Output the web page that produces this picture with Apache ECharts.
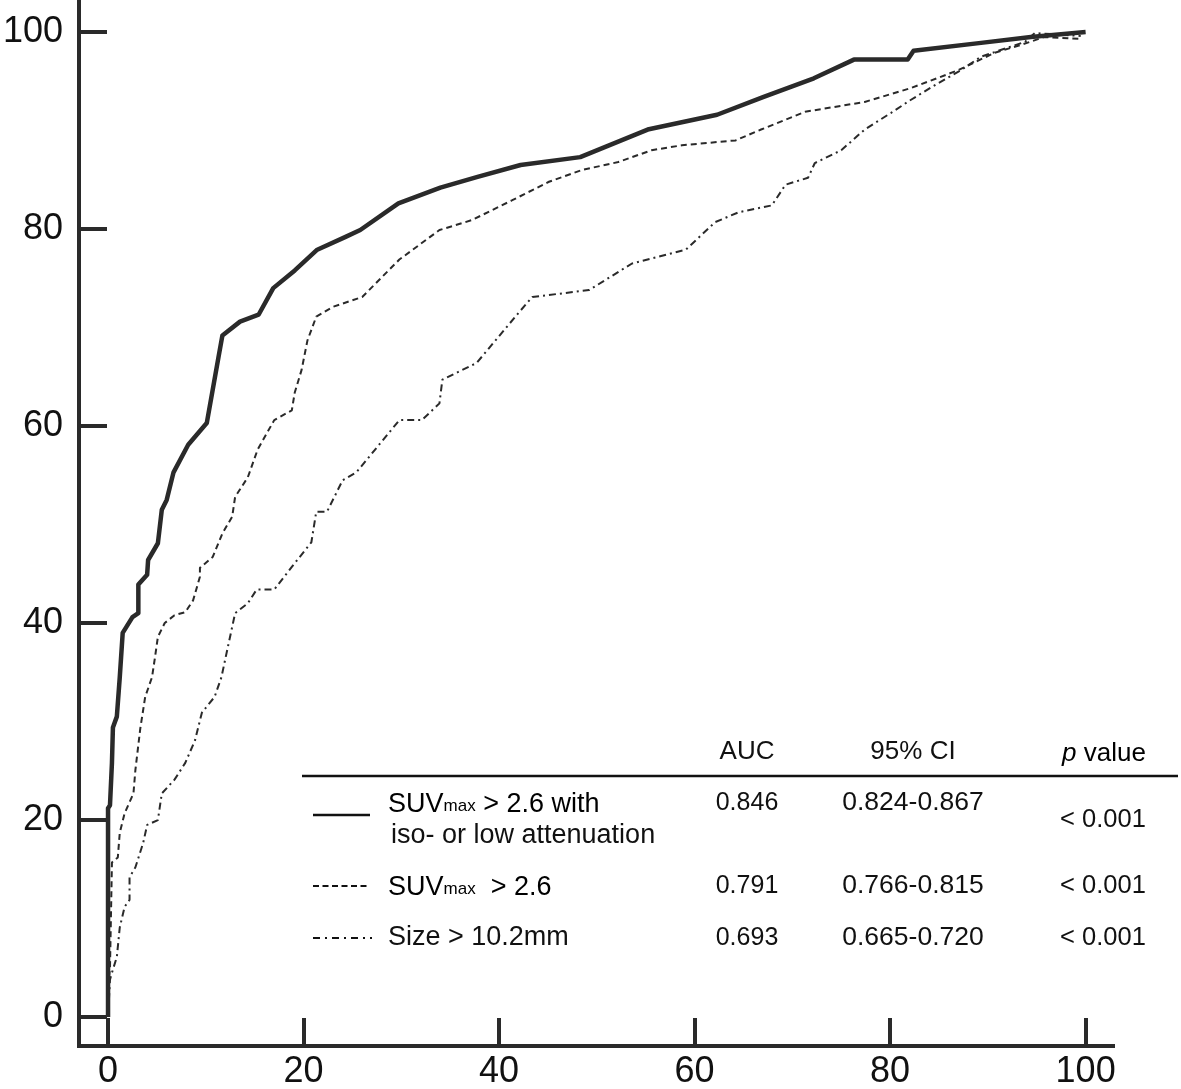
<!DOCTYPE html>
<html>
<head>
<meta charset="utf-8">
<script src="https://cdn.jsdelivr.net/npm/echarts@6/dist/echarts.min.js"></script>
<style>
html,body{margin:0;padding:0;background:#fff;}
#chart{width:1181px;height:1089px;}
</style>
</head>
<body>
<div id="chart"></div>
<script>
// ---- data ----
const xTicks = [0, 20, 40, 60, 80, 100];
const yTicks = [0, 20, 40, 60, 80, 100];

const solidX = [0, 0, 0.2, 0.4, 0.5, 0.9, 1.2, 1.5, 2.5, 3.1, 3.1, 4.0, 4.1, 5.1, 5.5, 6.0, 6.7, 8.2, 10.1, 11.3, 11.7, 13.5, 15.4, 16.9, 19.1, 21.4, 24.3, 25.8, 29.7, 34.0, 37.8, 42.2, 48.3, 55.2, 62.3, 67.0, 72.2, 76.3, 81.8, 82.4, 89.3, 94.4, 100];
const solidY = [0, 21.2, 21.5, 25.8, 29.4, 30.5, 34.5, 39.0, 40.6, 41.0, 43.9, 44.9, 46.4, 48.1, 51.5, 52.5, 55.3, 58.1, 60.3, 67.0, 69.2, 70.6, 71.3, 74.0, 75.8, 77.9, 79.2, 79.9, 82.6, 84.2, 85.3, 86.5, 87.3, 90.1, 91.6, 93.4, 95.3, 97.2, 97.2, 98.1, 98.9, 99.5, 100];

const dashX = [0, 0, 0.2, 0.4, 1.0, 1.2, 1.7, 2.6, 2.8, 3.3, 3.8, 4.5, 4.8, 5.1, 5.8, 6.8, 7.9, 8.7, 9.4, 9.4, 10.7, 11.7, 12.7, 13.0, 14.3, 15.3, 17.0, 18.8, 19.1, 19.8, 20.4, 21.3, 23.0, 26.0, 29.8, 33.9, 37.2, 41.3, 45.1, 48.5, 52.2, 55.6, 58.7, 64.2, 66.8, 71.3, 77.4, 82.1, 86.9, 90.7, 93.4, 95.8, 99.5];
const dashY = [0, 3.0, 5.0, 15.7, 16.2, 18.7, 20.7, 22.7, 25.1, 29.3, 32.5, 34.5, 36.5, 38.6, 40.0, 40.8, 41.1, 42.3, 44.7, 45.6, 46.7, 49.1, 50.8, 52.8, 54.8, 57.6, 60.6, 61.6, 63.4, 65.7, 68.7, 71.1, 72.1, 73.1, 76.9, 79.9, 80.9, 82.9, 84.8, 86.0, 86.8, 88.0, 88.5, 89.0, 90.1, 91.9, 92.9, 94.3, 96.1, 97.9, 98.7, 99.5, 99.3];

const sizeX = [0, 0.2, 0.4, 0.9, 1.2, 1.7, 2.2, 2.2, 2.8, 3.6, 4.0, 5.1, 5.5, 6.8, 7.9, 8.9, 9.6, 10.9, 11.6, 12.2, 13.0, 14.3, 15.2, 17.0, 18.8, 20.8, 21.3, 22.4, 24.0, 25.4, 29.8, 32.1, 33.9, 34.2, 37.7, 42.0, 43.4, 49.2, 53.6, 59.1, 62.1, 64.5, 67.9, 69.3, 71.6, 72.3, 75.0, 77.4, 80.1, 82.1, 84.9, 87.2, 89.3, 93.8, 94.8, 99.5];
const sizeY = [0, 3.8, 4.5, 6.1, 9.1, 11.2, 11.9, 14.2, 15.2, 17.7, 19.5, 20.0, 22.7, 24.1, 25.8, 28.1, 30.9, 32.5, 34.5, 37.3, 41.0, 42.0, 43.4, 43.4, 45.7, 48.2, 51.3, 51.3, 54.5, 55.3, 60.6, 60.6, 62.3, 64.7, 66.4, 71.5, 73.1, 73.8, 76.5, 77.9, 80.7, 81.7, 82.4, 84.5, 85.2, 86.7, 88.0, 90.1, 91.8, 93.1, 94.8, 96.1, 97.5, 99.0, 99.9, 99.6];

const headers = ['AUC', '95% CI', 'p value'];
const legendNames = ['SUVmax > 2.6 with iso- or low attenuation', 'SUVmax > 2.6', 'Size > 10.2mm'];
const aucValues = ['0.846', '0.791', '0.693'];
const ciValues = ['0.824-0.867', '0.766-0.815', '0.665-0.720'];
const pValues = ['< 0.001', '< 0.001', '< 0.001'];

// ---- chart ----
const INK = '#2a2a2a';
const FONT = '"Liberation Sans", Arial, sans-serif';
const zip = (xs, ys) => xs.map((x, i) => [x, ys[i]]);

const chart = echarts.init(document.getElementById('chart'), null, {renderer: 'canvas'});

const axisCommon = {
  type: 'value',
  splitLine: {show: false},
  axisLine: {show: true, onZero: false, lineStyle: {color: INK, width: 4, cap: 'square'}},
  axisTick: {show: true, inside: true, length: 28, lineStyle: {color: INK, width: 4}},
  axisLabel: {fontSize: 36, fontFamily: FONT, color: '#111'}
};

const richStyle = {
  a: {fontSize: 27, fontFamily: FONT, color: '#111', lineHeight: 30, verticalAlign: 'bottom'},
  b: {fontSize: 17, fontFamily: FONT, color: '#111', lineHeight: 18, verticalAlign: 'bottom', padding: [0, 0, 3, 0]},
  h: {fontSize: 26, fontFamily: FONT, color: '#111', lineHeight: 30, verticalAlign: 'bottom'},
  i: {fontSize: 26, fontFamily: FONT, color: '#111', lineHeight: 30, verticalAlign: 'bottom', fontStyle: 'italic'}
};

const T = (x, y, text, align, size) => ({
  type: 'text', x: x, y: y, silent: true,
  style: {text: text, fill: '#111', font: (size || 25) + 'px ' + FONT, align: align, verticalAlign: 'middle'}
});

const rowY = [803, 886, 938];
const pY = [820, 886, 938];
const graphics = [];
// header
graphics.push(T(747, 752, headers[0], 'center', 26));
graphics.push(T(913, 752, headers[1], 'center', 26));
graphics.push({type: 'text', x: 1104, y: 752, silent: true, style: {
  text: '{i|' + headers[2].split(' ')[0] + '}{h| ' + headers[2].split(' ')[1] + '}',
  align: 'center', verticalAlign: 'middle', rich: richStyle}});
// rule
graphics.push({type: 'line', silent: true, shape: {x1: 302, y1: 776, x2: 1178, y2: 776}, style: {stroke: '#111', lineWidth: 2.5}});
// sample lines
graphics.push({type: 'line', silent: true, shape: {x1: 313, y1: 815, x2: 370, y2: 815}, style: {stroke: '#111', lineWidth: 2.5}});
graphics.push({type: 'line', silent: true, shape: {x1: 313, y1: 886, x2: 370, y2: 886}, style: {stroke: '#111', lineWidth: 2, lineDash: [6, 3.5]}});
graphics.push({type: 'line', silent: true, shape: {x1: 313, y1: 938, x2: 372, y2: 938}, style: {stroke: '#111', lineWidth: 2, lineDash: [7, 5, 2, 5]}});
// row names
graphics.push({type: 'text', x: 388, y: rowY[0], silent: true, style: {text: '{a|SUV}{b|max}{a| > 2.6 with}', align: 'left', verticalAlign: 'middle', rich: richStyle}});
graphics.push(T(391, 836, 'iso- or low attenuation', 'left', 27));
graphics.push({type: 'text', x: 388, y: rowY[1], silent: true, style: {text: '{a|SUV}{b|max}{a|  > 2.6}', align: 'left', verticalAlign: 'middle', rich: richStyle}});
graphics.push(T(388, rowY[2], legendNames[2], 'left', 27));
// values
for (let r = 0; r < 3; r++) {
  graphics.push(T(747, rowY[r], aucValues[r], 'center', 25));
  graphics.push(T(913, rowY[r], ciValues[r], 'center', 26.5));
  graphics.push(T(1103, pY[r], pValues[r], 'center', 25.5));
}

chart.setOption({
  animation: false,
  backgroundColor: '#fff',
  grid: {left: 79, right: 68, top: 1, bottom: 43, containLabel: false, outerBoundsMode: 'none'},
  xAxis: Object.assign({}, axisCommon, {
    min: -2.97, max: 102.8,
    axisTick: Object.assign({}, axisCommon.axisTick, {customValues: xTicks}),
    axisLabel: Object.assign({}, axisCommon.axisLabel, {customValues: xTicks, margin: 8})
  }),
  yAxis: Object.assign({}, axisCommon, {
    min: -2.94, max: 103.15,
    axisTick: Object.assign({}, axisCommon.axisTick, {customValues: yTicks}),
    axisLabel: Object.assign({}, axisCommon.axisLabel, {customValues: yTicks, margin: 16})
  }),
  series: [
    {name: legendNames[0], type: 'line', data: zip(solidX, solidY), showSymbol: false, symbol: 'none',
     lineStyle: {color: INK, width: 4.5, type: 'solid', join: 'round'}, z: 5},
    {name: legendNames[1], type: 'line', data: zip(dashX, dashY), showSymbol: false, symbol: 'none',
     lineStyle: {color: INK, width: 2, type: [6, 4]}, z: 4},
    {name: legendNames[2], type: 'line', data: zip(sizeX, sizeY), showSymbol: false, symbol: 'none',
     lineStyle: {color: INK, width: 2, type: [7, 4, 2, 4]}, z: 3}
  ],
  graphic: graphics
});
</script>
</body>
</html>
